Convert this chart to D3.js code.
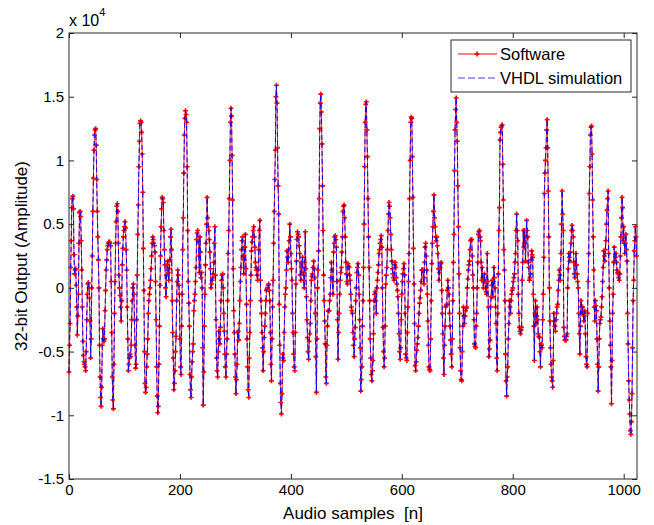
<!DOCTYPE html>
<html lang="en">

<head>
    <meta charset="UTF-8">
    <title>32-bit Output - Software vs VHDL simulation</title>
    <script src="https://d3js.org/d3.v7.min.js"></script>
    <style>
        body {
            margin: 0;
            padding: 0;
            background: #ffffff;
            overflow: hidden;
        }

        svg text {
            font-family: "Liberation Sans", Arial, Helvetica, sans-serif;
            font-size: 15px;
            fill: #000;
            white-space: pre;
        }
    </style>
</head>

<body>
    <svg id="vis" width="654" height="525"></svg>
    <script>
        // values, in units of 10^4, one per audio sample n = 0..1023
        const software = [
            -0.66, -0.45, -0.28, 0.16, 0.37, 0.63, 0.70, 0.72, 0.62, 0.26,
            0.11, 0.14, 0.15, 0.02, -0.15, -0.37, -0.22, -0.05, 0.35, 0.59,
            0.60, 0.56, 0.37, 0.14, -0.15, -0.42, -0.53, -0.58, -0.60, -0.62,
            -0.65, -0.50, -0.25, -0.05, 0.03, 0.04, 0.00, -0.08, -0.26, -0.55,
            -0.40, 0.00, 0.25, 0.60, 0.86, 1.08, 1.20, 1.24, 1.25, 1.12,
            0.85, 0.60, 0.40, 0.22, 0.00, -0.45, -0.70, -0.86, -0.93, -0.78,
            -0.45, -0.32, -0.40, -0.42, -0.40, -0.18, -0.02, 0.14, 0.22, 0.30,
            0.33, 0.35, 0.36, 0.36, 0.35, 0.33, 0.05, -0.35, -0.70, -0.88,
            -0.95, -0.60, -0.20, 0.05, 0.35, 0.52, 0.64, 0.66, 0.60, 0.35,
            0.10, 0.00, -0.06, -0.15, -0.26, -0.10, 0.18, 0.31, 0.40, 0.45,
            0.48, 0.52, 0.47, 0.30, 0.14, -0.15, -0.40, -0.65, -0.60, -0.55,
            -0.52, -0.54, -0.45, -0.25, -0.10, 0.00, 0.03, -0.05, -0.25, -0.45,
            -0.63, -0.60, -0.25, 0.10, 0.42, 0.65, 0.95, 1.15, 1.29, 1.31,
            1.30, 1.22, 1.05, 0.75, 0.31, -0.02, -0.50, -0.75, -0.82, -0.78,
            -0.62, -0.52, -0.40, -0.20, -0.10, -0.05, 0.00, 0.06, 0.15, 0.25,
            0.35, 0.40, 0.38, 0.35, 0.33, 0.28, 0.05, -0.25, -0.62, -0.85,
            -0.98, -0.93, -0.60, -0.30, 0.02, 0.25, 0.48, 0.62, 0.71, 0.70,
            0.67, 0.45, 0.30, 0.18, 0.00, -0.07, 0.10, 0.18, 0.21, 0.12,
            0.06, 0.15, 0.22, 0.40, 0.46, 0.30, -0.10, -0.35, -0.55, -0.80,
            -0.75, -0.65, -0.50, -0.38, -0.10, 0.05, 0.14, 0.10, 0.02, -0.05,
            -0.40, -0.62, -0.68, -0.30, -0.05, 0.30, 0.55, 0.90, 1.20, 1.33,
            1.39, 1.36, 1.30, 0.95, 0.45, 0.05, -0.12, -0.30, -0.68, -0.80,
            -0.86, -0.70, -0.58, -0.50, -0.44, -0.18, -0.10, -0.05, 0.05, 0.16,
            0.38, 0.43, 0.45, 0.36, 0.25, 0.12, 0.40, 0.28, 0.08, 0.12,
            0.00, -0.47, -0.92, -0.66, -0.30, -0.05, 0.18, 0.35, 0.50, 0.71,
            0.55, 0.48, 0.45, 0.38, 0.28, 0.15, 0.00, 0.03, 0.06, 0.08,
            0.11, 0.20, 0.35, 0.48, 0.10, -0.25, -0.55, -0.65, -0.70, -0.50,
            -0.34, -0.40, -0.44, -0.31, -0.10, 0.06, 0.10, 0.11, 0.00, -0.20,
            -0.34, -0.52, -0.62, -0.70, -0.52, -0.40, -0.10, 0.27, 0.45, 0.70,
            1.00, 1.30, 1.41, 1.35, 1.04, 0.69, 0.15, -0.18, -0.35, -0.52,
            -0.70, -0.83, -0.72, -0.60, -0.35, -0.34, -0.41, -0.28, -0.10, 0.05,
            0.16, 0.30, 0.37, 0.40, 0.25, 0.11, 0.22, 0.32, 0.42, 0.15,
            -0.13, -0.40, -0.62, -0.80, -0.86, -0.55, -0.35, -0.10, 0.10, 0.29,
            0.36, 0.40, 0.45, 0.48, 0.40, 0.32, 0.20, 0.16, 0.14, 0.10,
            0.06, 0.14, 0.30, 0.45, 0.53, 0.06, -0.10, -0.20, -0.35, -0.47,
            -0.65, -0.50, -0.39, -0.30, -0.20, -0.10, -0.02, -0.01, 0.00, 0.02,
            0.03, -0.02, -0.10, -0.35, -0.60, -0.73, -0.40, -0.15, 0.06, 0.35,
            0.60, 0.85, 1.08, 1.50, 1.59, 1.45, 1.10, 0.80, 0.58, -0.13,
            -0.45, -0.75, -0.90, -0.99, -0.83, -0.52, -0.55, -0.57, -0.35, -0.15,
            -0.05, 0.00, 0.14, 0.29, 0.24, 0.20, 0.30, 0.37, 0.50, 0.40,
            0.27, 0.15, 0.06, -0.20, -0.35, -0.52, -0.62, -0.65, -0.35, 0.03,
            0.21, 0.38, 0.44, 0.42, 0.40, 0.33, 0.27, 0.10, 0.06, 0.16,
            0.20, 0.24, 0.12, 0.06, 0.00, 0.20, 0.44, 0.15, -0.07, -0.25,
            -0.39, -0.50, -0.56, -0.42, -0.36, -0.28, -0.10, 0.06, 0.09, 0.11,
            0.16, 0.21, 0.15, 0.08, -0.20, -0.54, -0.82, -0.40, 0.00, 0.14,
            0.29, 0.70, 1.25, 1.45, 1.52, 1.38, 1.13, 0.80, 0.45, 0.10,
            -0.10, -0.26, -0.44, -0.70, -0.75, -0.45, -0.30, -0.18, -0.18, -0.18,
            -0.10, -0.05, 0.08, 0.20, 0.14, 0.05, -0.05, 0.28, 0.35, 0.40,
            0.41, 0.38, 0.32, 0.05, -0.25, -0.56, -0.35, -0.20, -0.05, 0.06,
            0.12, 0.16, 0.28, 0.40, 0.60, 0.64, 0.65, 0.55, 0.40, 0.20,
            0.11, 0.05, 0.03, 0.19, 0.17, 0.16, 0.10, 0.06, -0.05, -0.15,
            -0.18, -0.20, -0.35, -0.45, -0.54, -0.40, -0.31, -0.10, 0.00, 0.12,
            0.16, 0.19, 0.10, -0.05, -0.25, -0.47, -0.81, -0.72, -0.62, -0.30,
            -0.10, 0.16, 0.50, 0.95, 1.30, 1.44, 1.46, 1.24, 1.03, 0.70,
            0.40, 0.16, -0.10, -0.40, -0.55, -0.68, -0.73, -0.65, -0.57, -0.36,
            -0.10, -0.05, -0.03, -0.10, -0.20, 0.00, 0.06, 0.12, 0.18, 0.27,
            0.30, 0.35, 0.38, 0.41, 0.32, 0.00, -0.31, -0.50, -0.62, -0.55,
            -0.30, 0.03, 0.10, 0.16, 0.30, 0.45, 0.58, 0.67, 0.64, 0.55,
            0.42, 0.30, 0.21, 0.15, 0.11, 0.08, 0.06, 0.18, 0.20, 0.16,
            0.08, 0.03, -0.02, -0.07, -0.20, -0.36, -0.50, -0.56, -0.47, -0.25,
            -0.05, 0.05, 0.11, 0.15, 0.19, 0.10, -0.20, -0.52, -0.55, -0.57,
            -0.35, -0.15, 0.05, 0.27, 0.70, 1.00, 1.30, 1.34, 1.33, 1.03,
            0.71, 0.31, 0.03, -0.28, -0.61, -0.65, -0.58, -0.49, -0.44, -0.39,
            -0.30, -0.20, -0.12, -0.08, -0.02, 0.05, 0.14, 0.14, 0.14, 0.08,
            0.03, 0.20, 0.32, 0.35, 0.25, 0.14, -0.05, -0.26, -0.45, -0.62,
            -0.64, -0.65, -0.40, -0.10, 0.19, 0.35, 0.48, 0.60, 0.73, 0.55,
            0.48, 0.40, 0.37, 0.40, 0.33, 0.27, 0.15, 0.06, 0.12, 0.16,
            0.19, 0.20, -0.02, -0.20, -0.36, -0.55, -0.68, -0.45, -0.30, -0.15,
            -0.14, -0.13, -0.02, 0.06, 0.00, -0.05, -0.20, -0.30, -0.41, -0.52,
            -0.62, -0.40, -0.10, 0.20, 0.42, 0.92, 1.24, 1.40, 1.49, 1.30,
            1.15, 0.80, 0.48, 0.11, -0.20, -0.47, -0.65, -0.72, -0.73, -0.50,
            -0.30, -0.15, -0.22, -0.28, -0.22, -0.18, -0.16, -0.15, 0.00, 0.07,
            0.14, 0.18, 0.21, 0.30, 0.37, 0.38, 0.38, 0.25, 0.10, 0.00,
            -0.25, -0.44, -0.46, -0.47, -0.30, -0.20, 0.00, 0.20, 0.42, 0.44,
            0.45, 0.40, 0.37, 0.20, 0.06, 0.16, 0.08, 0.00, 0.06, 0.11,
            0.05, 0.00, -0.03, -0.05, 0.27, 0.05, -0.15, -0.54, -0.48, -0.41,
            -0.15, -0.07, 0.02, 0.06, -0.07, 0.05, 0.16, 0.08, 0.00, -0.15,
            -0.28, -0.55, -0.65, -0.20, 0.11, 0.45, 0.63, 1.16, 1.22, 1.26,
            1.27, 1.28, 0.97, 0.69, 0.30, 0.14, -0.10, -0.52, -0.73, -0.85,
            -0.70, -0.62, -0.40, -0.28, -0.10, -0.15, -0.20, -0.10, -0.05, -0.02,
            0.00, 0.05, 0.08, 0.11, 0.20, 0.27, 0.45, 0.58, 0.45, 0.37,
            -0.05, -0.20, -0.31, -0.34, -0.36, -0.33, -0.31, 0.06, 0.20, 0.45,
            0.32, 0.45, 0.35, 0.21, 0.40, 0.53, 0.45, 0.40, 0.20, 0.16,
            0.06, 0.08, 0.11, 0.22, 0.29, 0.26, 0.24, -0.05, -0.30, -0.57,
            -0.20, -0.10, -0.28, -0.22, -0.15, -0.25, -0.36, -0.38, -0.39, -0.50,
            -0.62, -0.44, -0.45, -0.47, -0.25, -0.05, 0.24, 0.74, 0.90, 1.00,
            1.10, 1.24, 1.32, 1.10, 0.76, 0.40, 0.00, -0.26, -0.47, -0.60,
            -0.70, -0.73, -0.78, -0.57, -0.20, -0.26, -0.30, -0.34, -0.25, -0.20,
            -0.15, -0.13, -0.02, 0.06, 0.14, 0.10, 0.06, 0.27, 0.50, 0.76,
            0.58, 0.45, -0.31, -0.38, -0.41, -0.41, -0.41, -0.38, -0.36, 0.00,
            0.15, 0.27, 0.24, 0.21, 0.28, 0.35, 0.45, 0.49, 0.45, 0.40,
            0.20, 0.11, 0.08, 0.18, 0.27, 0.18, 0.11, 0.05, 0.00, -0.20,
            -0.36, -0.52, -0.30, -0.10, -0.15, -0.20, -0.15, -0.20, -0.26, -0.22,
            -0.18, -0.36, -0.54, -0.60, -0.62, -0.20, 0.05, 0.27, 0.74, 0.95,
            1.20, 1.26, 1.27, 1.05, 0.69, 0.40, 0.14, -0.15, -0.26, -0.10,
            -0.14, -0.18, -0.40, -0.60, -0.81, -0.62, -0.40, -0.28, -0.25, -0.23,
            -0.15, -0.07, 0.05, 0.16, 0.29, 0.25, 0.21, 0.30, 0.37, 0.50,
            0.61, 0.70, 0.76, 0.27, 0.00, -0.26, -0.45, -0.62, -0.91, -0.57,
            -0.20, -0.05, 0.20, 0.32, 0.21, 0.24, 0.27, 0.20, 0.14, 0.12,
            0.11, 0.08, 0.06, 0.11, 0.25, 0.40, 0.55, 0.71, 0.63, 0.37,
            0.48, 0.35, 0.27, 0.35, 0.42, 0.30, 0.21, -0.20, -0.44, -0.73,
            -0.88, -0.99, -1.12, -1.15, -1.05, -0.83, -0.47, -0.10, 0.06, 0.29,
            0.37, 0.48, 0.40, 0.25
        ];
        // the VHDL run gives the same samples, so the two traces lie on top of each other
        const vhdl = software.slice();

        const xTicks = [0, 200, 400, 600, 800, 1000];
        const yTicks = [-1.5, -1, -0.5, 0, 0.5, 1, 1.5, 2];
        const seriesNames = ["Software", "VHDL simulation"];

        const svg = d3.select("#vis");
        const m = { left: 69, right: 637, top: 33, bottom: 479 };

        const x = d3.scaleLinear().domain([0, 1024]).range([m.left, m.right]);
        const y = d3.scaleLinear().domain([-1.5, 2]).range([m.bottom, m.top]);

        const axisColor = "#262626";

        // axes with inward ticks on all four sides (matlab box style)
        const gx = svg.append("g")
            .attr("transform", `translate(0,${m.bottom})`)
            .call(d3.axisBottom(x).tickValues(xTicks).tickSizeInner(-5).tickSizeOuter(0).tickPadding(5)
                .tickFormat(d => String(d)));
        const gxTop = svg.append("g")
            .attr("transform", `translate(0,${m.top})`)
            .call(d3.axisTop(x).tickValues(xTicks).tickSizeInner(-5).tickSizeOuter(0).tickFormat(""));
        const gy = svg.append("g")
            .attr("transform", `translate(${m.left},0)`)
            .call(d3.axisLeft(y).tickValues(yTicks).tickSizeInner(-5).tickSizeOuter(0).tickPadding(5)
                .tickFormat(d => String(d)));
        const gyRight = svg.append("g")
            .attr("transform", `translate(${m.right},0)`)
            .call(d3.axisRight(y).tickValues(yTicks).tickSizeInner(-5).tickSizeOuter(0).tickFormat(""));

        [gx, gxTop, gy, gyRight].forEach(g => {
            g.select(".domain").remove();
            g.selectAll(".tick line").attr("stroke", axisColor);
            g.selectAll(".tick text")
                .style("font-family", '"Liberation Sans", Arial, sans-serif')
                .style("font-size", "15px")
                .attr("fill", "#000");
        });

        svg.append("rect")
            .attr("x", m.left).attr("y", m.top)
            .attr("width", m.right - m.left).attr("height", m.bottom - m.top)
            .attr("fill", "none")
            .attr("stroke", axisColor)
            .attr("stroke-width", 1);

        // exponent label
        const expo = svg.append("text").attr("x", m.left).attr("y", m.top - 7)
            .style("font-size", "16px");
        expo.append("tspan").text("x 10");
        expo.append("tspan").attr("dy", -10).style("font-size", "11px").text("4");

        svg.append("text")
            .attr("x", (m.left + m.right) / 2)
            .attr("y", 519)
            .attr("text-anchor", "middle")
            .style("font-size", "17px")
            .text("Audio samples  [n]");

        svg.append("text")
            .attr("transform", `translate(27,${(m.top + m.bottom) / 2}) rotate(-90)`)
            .attr("text-anchor", "middle")
            .style("font-size", "17px")
            .text("32-bit Output (Amplitude)");

        // traces
        const line = d3.line()
            .x((d, i) => x(i))
            .y(d => y(d));

        const plot = svg.append("g");

        plot.append("path")
            .datum(software)
            .attr("d", line)
            .attr("fill", "none")
            .attr("stroke", "#ff0000")
            .attr("stroke-width", 0.8);

        const marker = d3.symbol().type(d3.symbolCross).size(13);
        plot.selectAll(".pt")
            .data(software)
            .join("path")
            .attr("class", "pt")
            .attr("transform", (d, i) => `translate(${x(i)},${y(d)})`)
            .attr("d", marker)
            .attr("fill", "#ff0000");

        plot.append("path")
            .datum(vhdl)
            .attr("d", line)
            .attr("fill", "none")
            .attr("stroke", "#0000ff")
            .attr("stroke-width", 1)
            .attr("stroke-dasharray", "5,3");

        // legend
        const legend = svg.append("g").attr("transform", "translate(451,40)");
        legend.append("rect")
            .attr("width", 180).attr("height", 52)
            .attr("fill", "#fff")
            .attr("stroke", axisColor);

        const entries = legend.selectAll(".entry")
            .data(seriesNames)
            .join("g")
            .attr("class", "entry")
            .attr("transform", (d, i) => `translate(0,${14 + i * 24})`);

        entries.append("line")
            .attr("x1", 7).attr("x2", 46)
            .attr("stroke", (d, i) => i === 0 ? "#ff0000" : "#4040ff")
            .attr("stroke-width", 1)
            .attr("stroke-dasharray", (d, i) => i === 0 ? null : "7,3");

        entries.filter((d, i) => i === 0).append("path")
            .attr("transform", "translate(26,0)")
            .attr("d", marker)
            .attr("fill", "#ff0000");

        entries.append("text")
            .attr("x", 49)
            .attr("y", 6)
            .style("font-size", "16.5px")
            .text(d => d);
    </script>
</body>

</html>
